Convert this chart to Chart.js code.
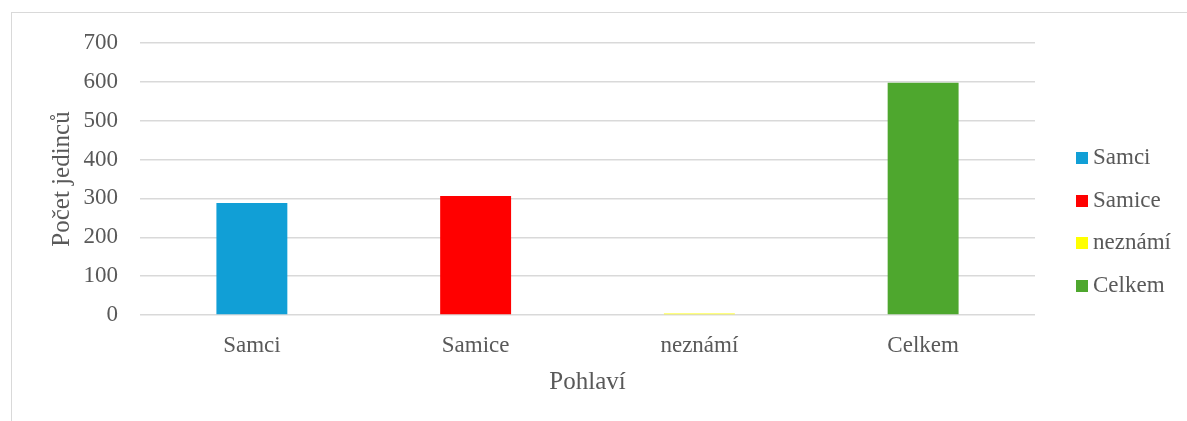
<!DOCTYPE html>
<html lang="cs">
<head>
<meta charset="UTF-8">
<script src="https://cdn.jsdelivr.net/npm/chart.js"></script>
<title>Pohlaví</title>
<style>
    body { margin: 0; background: #fff; }
    .wrap { position: relative; width: 1187px; height: 421px; overflow: hidden; }
    .frame { position: absolute; left: 11px; top: 12px; width: 1300px; height: 600px;
             border-left: 1.5px solid #d9d9d9; border-top: 1.5px solid #d9d9d9; }
    canvas { position: absolute; left: 0; top: 0; }
    #legend { position: absolute; left: 1076px; top: 136px; font-family: "Liberation Serif", serif;
              font-size: 23px; color: #595959; }
    #legend div { height: 42.5px; display: flex; align-items: center; }
    #legend span.box { display: inline-block; width: 12px; height: 12px; margin-right: 5px; margin-top: 2px; }
</style>
<script>
    // data
    const categories = ['Samci', 'Samice', 'neznámí', 'Celkem'];
    const seriesNames = ['Samci', 'Samice', 'neznámí', 'Celkem'];
    const values = [288, 306, 4, 598];
    const colors = ['#119fd6', '#ff0000', '#ffff00', '#4ea72e'];
    const yTicks = [0, 100, 200, 300, 400, 500, 600, 700];

    window.addEventListener('load', function () {
        // each series has a value only in its own category
        let datasets = [];
        seriesNames.forEach(function (name, i) {
            let d = categories.map(function (c, j) { return j == i ? values[i] : null; });
            datasets.push({ label: name, data: d, backgroundColor: colors[i], borderWidth: 0 });
        });

        const font = { family: '"Liberation Serif", serif', size: 23 };
        const titleFont = { family: '"Liberation Serif", serif', size: 25 };

        new Chart(document.getElementById('myChart'), {
            type: 'bar',
            data: { labels: categories, datasets: datasets },
            options: {
                responsive: false,
                animation: false,
                layout: { padding: { left: 43, right: 152, top: 43, bottom: 20 } },
                datasets: { bar: { grouped: false, categoryPercentage: 1, barPercentage: 0.317 } },
                scales: {
                    x: {
                        grid: { display: false },
                        border: { display: false },
                        ticks: { color: '#595959', font: font, padding: 9 },
                        title: { display: true, text: 'Pohlaví', color: '#595959', font: titleFont,
                                 padding: { top: 8, bottom: 4 } },
                        afterFit: function (axis) { axis.height = 86; }
                    },
                    y: {
                        min: 0, max: 700,
                        afterBuildTicks: function (axis) { axis.ticks = yTicks.map(v => ({ value: v })); },
                        grid: { color: '#d9d9d9', lineWidth: 1.5, drawTicks: false },
                        border: { display: false },
                        ticks: { color: '#595959', font: font, padding: 22 },
                        title: { display: true, text: 'Počet jedinců', color: '#595959', font: titleFont,
                                 padding: { top: 4, bottom: 8 } },
                        afterFit: function (axis) { axis.width = 97; }
                    }
                },
                plugins: { legend: { display: false }, tooltip: { enabled: false } }
            }
        });

        // legend
        let lg = document.getElementById('legend');
        seriesNames.forEach(function (name, i) {
            let row = document.createElement('div');
            row.innerHTML = '<span class="box" style="background:' + colors[i] + '"></span>' + name;
            lg.appendChild(row);
        });
    });
</script>
</head>
<body>
<div class="wrap">
    <div class="frame"></div>
    <canvas id="myChart" width="1187" height="421"></canvas>
    <div id="legend"></div>
</div>
</body>
</html>
